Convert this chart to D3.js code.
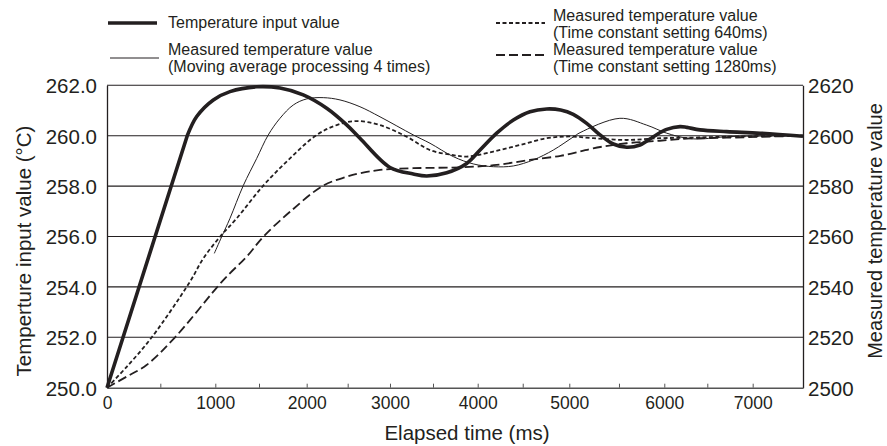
<!DOCTYPE html>
<html><head><meta charset="utf-8">
<script src="https://cdn.jsdelivr.net/npm/d3@7"></script>
<style>
body{margin:0;background:#fff}
svg{display:block}
text{font-family:"Liberation Sans",Arial,Helvetica,sans-serif;fill:#231f20}
</style>
</head><body>
<svg id="c" width="887" height="446"></svg>
<script>
// ---------- DATA ----------
const xTickLabels = [0,1000,2000,3000,4000,5000,6000,7000];
const xMinorTicks = [500,1500,2500,3500,4500,5500,6500];
const yLeftTicks = [250,252,254,256,258,260,262];
const yRightTicks = [2500,2520,2540,2560,2580,2600,2620];

// Temperature input value (straight ramp 0 -> 745 ms, then smooth oscillation)
const inputT = [0,745,831,982,1168,1474,1720,1964,2244,2488,2645,3000,3271,3427,3653,3877,4026,4211,4396,4578,4757,4907,5040,5175,5309,5443,5585,5732,5879,6028,6183,6262,6415,6714,7080,7550];
const inputV = [250,260,260.76,261.42,261.75,261.94,261.89,261.62,261.09,260.43,259.90,258.74,258.48,258.40,258.53,258.90,259.43,260.10,260.62,260.95,261.06,261.02,260.85,260.49,260.03,259.67,259.54,259.63,259.96,260.25,260.36,260.33,260.23,260.16,260.10,259.98];

// Measured value, moving average 4 times
const ma4T = [991,1073,1168,1320,1474,1597,1720,1860,2000,2202,2406,2645,2882,3271,3465,3727,3951,4173,4396,4614,4828,5040,5108,5510,5806,6028,6262,6415,6714,7550];
const ma4V = [255.33,255.99,256.72,258.02,259.10,260.03,260.69,261.22,261.46,261.51,261.42,261.15,260.75,260.03,259.70,259.17,258.88,258.77,258.80,259.04,259.43,259.95,260.12,260.69,260.42,260.10,259.90,259.87,259.96,260.0];

// Measured value, time constant 640 ms
const tc640T = [0,185,420,770,891,1054,1245,1545,1825,2122,2366,2606,2882,3194,3465,3727,3877,4173,4470,4757,5000,5240,5585,5950,6306,6714,7550];
const tc640V = [250,250.83,252,254.21,255.13,255.99,256.72,258.02,259.10,260.03,260.42,260.58,260.42,259.96,259.43,259.23,259.17,259.37,259.63,259.90,259.97,259.90,259.83,259.90,259.92,259.96,260.0];

// Measured value, time constant 1280 ms
const tc1280T = [0,185,371,634,1092,1359,1545,1825,2202,2488,2645,2882,3271,3842,4211,4578,4907,5108,5240,5585,5950,6306,6714,7550];
const tc1280V = [250,250.44,250.90,252,254.27,255.2,255.99,256.98,258.02,258.37,258.51,258.64,258.71,258.75,258.84,259.04,259.20,259.37,259.50,259.70,259.80,259.89,259.92,260.0];

// ---------- LAYOUT ----------
const M = {left:107, right:803, top:85.3, bottom:387.7};
// axis calibration of the original (slightly uneven tick spacing)
const calT = [0,500,1000,1500,2000,2500,3000,3500,4000,4500,5000,5500,6000,6500,7000,7550];
const calF = [0,0.0766,0.1556,0.2184,0.2869,0.3458,0.4066,0.4684,0.5326,0.5973,0.6642,0.7356,0.8007,0.8625,0.9277,1];

const svg = d3.select("#c");
const x = d3.scaleLinear().domain(calT).range(calF.map(f => M.left + f*(M.right-M.left)));
const y = d3.scaleLinear().domain([250,262]).range([M.bottom, M.top]);
const y2 = d3.scaleLinear().domain([2500,2620]).range([M.bottom, M.top]);
const FONT = '"Liberation Sans",Arial,sans-serif';
const INK = "#231f20";

// gridlines
svg.append("g").selectAll("line").data(yLeftTicks.filter(d=>d>250)).join("line")
  .attr("x1", M.left).attr("x2", M.right)
  .attr("y1", d=>y(d)).attr("y2", d=>y(d))
  .attr("stroke", INK).attr("stroke-width", 1.1);

// left axis
const gl = svg.append("g").attr("transform", `translate(${M.left},0)`)
  .call(d3.axisLeft(y).tickValues(yLeftTicks).tickFormat(d3.format(".1f")).tickSize(0).tickPadding(10));
gl.select(".domain").attr("stroke",INK).attr("stroke-width",1.3);
gl.selectAll("text").attr("font-size", 20.5).attr("dy","0.36em").style("font-family",FONT).attr("fill",INK);

// right axis
const gr = svg.append("g").attr("transform", `translate(${M.right},0)`)
  .call(d3.axisRight(y2).tickValues(yRightTicks).tickFormat(d3.format("d")).tickSize(0).tickPadding(5));
gr.select(".domain").attr("stroke",INK).attr("stroke-width",1.3);
gr.selectAll("text").attr("font-size", 20.5).attr("dy","0.36em").style("font-family",FONT).attr("fill",INK);

// bottom axis (ticks pointing up)
const gb = svg.append("g").attr("transform", `translate(0,${M.bottom})`)
  .call(d3.axisBottom(x).tickValues(xTickLabels.concat(xMinorTicks)).tickSizeInner(-4).tickSizeOuter(0)
    .tickFormat(d => xTickLabels.includes(d) ? String(d) : "").tickPadding(9));
gb.select(".domain").attr("stroke","#555").attr("stroke-width",1.6);
gb.selectAll(".tick line").attr("stroke","#555").attr("stroke-width",1);
gb.selectAll("text").attr("font-size", 17.5).style("font-family",FONT).attr("fill",INK);

// axis titles
svg.append("text").attr("x", 467).attr("y", 440).attr("text-anchor","middle")
  .attr("font-size", 20.5).text("Elapsed time (ms)");
svg.append("text").attr("transform","translate(31,251) rotate(-90)").attr("text-anchor","middle")
  .attr("font-size", 20.5).text("Temperture input value (°C)");
svg.append("text").attr("transform","translate(882,231) rotate(-90)").attr("text-anchor","middle")
  .attr("font-size", 20).text("Measured temperature value");

// series
const zip = (a,b) => a.map((t,i)=>[t,b[i]]);
const smooth = d3.line().x(d=>x(d[0])).y(d=>y(d[1])).curve(d3.curveCatmullRom.alpha(0.5));
const straight = d3.line().x(d=>x(d[0])).y(d=>y(d[1]));
const inputPts = zip(inputT, inputV);
const inputPath = straight(inputPts.slice(0,2)) + smooth(inputPts.slice(1)).replace(/^M/, "L");

const series = [
  {d: smooth(zip(tc1280T, tc1280V)), w:1.8, dash:"9,4"},
  {d: smooth(zip(tc640T, tc640V)), w:1.8, dash:"4,2.5"},
  {d: smooth(zip(ma4T, ma4V)), w:1.0, dash:null},
  {d: inputPath, w:3.6, dash:null}
];
svg.append("g").selectAll("path").data(series).join("path")
  .attr("d", s=>s.d).attr("fill","none").attr("stroke",INK)
  .attr("stroke-width", s=>s.w).attr("stroke-dasharray", s=>s.dash)
  .attr("stroke-linejoin","round");

// legend
const legend = [
  {x1:108, x2:157, ly:23, tx:168, lines:["Temperature input value"], by:28, w:3.6, dash:null},
  {x1:110, x2:159, ly:58, tx:168, lines:["Measured temperature value","(Moving average processing 4 times)"], by:55, w:1.0, dash:null},
  {x1:496, x2:545, ly:23, tx:553, lines:["Measured temperature value","(Time constant setting 640ms)"], by:21, w:1.8, dash:"4,2.5"},
  {x1:496, x2:545, ly:55, tx:553, lines:["Measured temperature value","(Time constant setting 1280ms)"], by:55, w:1.8, dash:"9,4"}
];
const lg = svg.append("g");
legend.forEach(L => {
  lg.append("line").attr("x1",L.x1).attr("x2",L.x2).attr("y1",L.ly).attr("y2",L.ly)
    .attr("stroke",INK).attr("stroke-width",L.w).attr("stroke-dasharray",L.dash);
  L.lines.forEach((s,i) => {
    lg.append("text").attr("x",L.tx).attr("y",L.by + i*16.5).attr("font-size",16).text(s);
  });
});
</script>
</body></html>
